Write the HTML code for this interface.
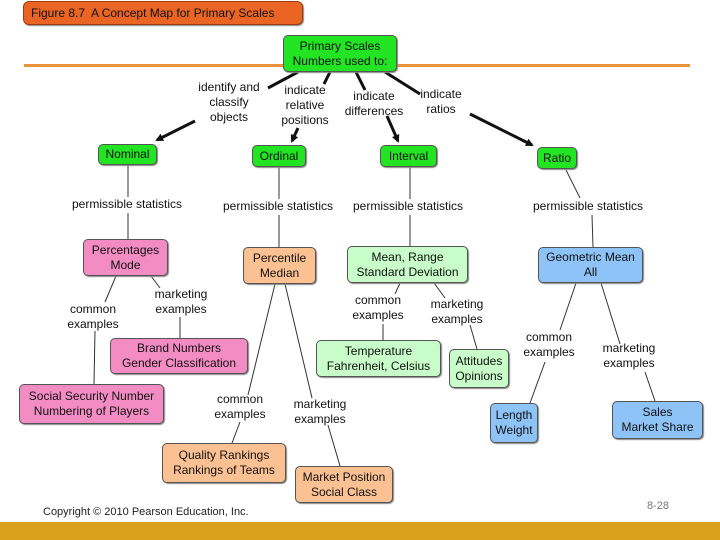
<!DOCTYPE html>
<html><head><style>
body{margin:0;width:720px;height:540px;background:#fff;position:relative;overflow:hidden;font-family:"Liberation Sans",sans-serif;}
.b{position:absolute;border:1px solid #555;border-radius:5px;display:flex;align-items:center;justify-content:center;text-align:center;font-size:12px;line-height:15px;color:#111;box-sizing:border-box;box-shadow:1px 1px 1px #888;}
.g{background:#22e422}.p{background:#f48cc4}.o{background:#fcc192}.lg{background:#c8fcc8}.bl{background:#8ec3f7}
.t{position:absolute;font-size:12px;line-height:15px;text-align:center;color:#111;white-space:nowrap;transform:translateX(-50%);}
</style></head><body>
<div class="b" style="left:23px;top:1px;width:280px;height:24px;background:#ea6424;border-color:#a03a10;border-radius:6px;justify-content:flex-start;padding-left:7px;font-size:12px">Figure 8.7&nbsp; A Concept Map for Primary Scales</div>
<div style="position:absolute;left:24px;top:64px;width:666px;height:3px;background:#e9943c"></div>
<svg style="position:absolute;left:0;top:0" width="720" height="540">
<defs><marker id="a" markerWidth="8" markerHeight="8" refX="6" refY="4" orient="auto" markerUnits="userSpaceOnUse"><path d="M0,0L8,4L0,8z" fill="#111"/></marker></defs>
<g stroke="#111" stroke-width="3" fill="none">
<line x1="298" y1="72" x2="268" y2="88"/><line x1="330" y1="72" x2="324" y2="84"/><line x1="356" y1="72" x2="365" y2="90"/><line x1="385" y1="72" x2="420" y2="94"/>
<line x1="195" y1="121" x2="157" y2="140" marker-end="url(#a)"/>
<line x1="298" y1="128" x2="292" y2="141" marker-end="url(#a)"/>
<line x1="387" y1="116" x2="398" y2="141" marker-end="url(#a)"/>
<line x1="470" y1="114" x2="532" y2="145" marker-end="url(#a)"/>
</g>
<g stroke="#333" stroke-width="1" fill="none">
<line x1="128" y1="165" x2="128" y2="197"/><line x1="128" y1="213" x2="128" y2="239"/>
<line x1="279" y1="166" x2="279" y2="199"/><line x1="279" y1="215" x2="279" y2="247"/>
<line x1="410" y1="166" x2="410" y2="199"/><line x1="410" y1="215" x2="410" y2="246"/>
<line x1="566" y1="170" x2="580" y2="198"/><line x1="592" y1="215" x2="593" y2="247"/>
<line x1="116" y1="276" x2="105" y2="302"/><line x1="95" y1="331" x2="94" y2="384"/>
<line x1="151" y1="276" x2="160" y2="288"/><line x1="180" y1="317" x2="180" y2="338"/>
<line x1="275" y1="284" x2="248" y2="395"/><line x1="240" y1="422" x2="232" y2="443"/>
<line x1="285" y1="284" x2="312" y2="398"/><line x1="328" y1="425" x2="340" y2="466"/>
<line x1="400" y1="283" x2="395" y2="294"/><line x1="383" y1="324" x2="383" y2="340"/>
<line x1="434" y1="283" x2="445" y2="298"/><line x1="470" y1="325" x2="477" y2="349"/>
<line x1="576" y1="283" x2="560" y2="330"/><line x1="545" y1="362" x2="530" y2="403"/>
<line x1="601" y1="283" x2="620" y2="344"/><line x1="645" y1="372" x2="655" y2="401"/>
</g></svg>
<div class="b g" style="left:283px;top:35px;width:114px;height:37px">Primary Scales<br>Numbers used to:</div>
<div class="t" style="left:229px;top:80px">identify and<br>classify<br>objects</div>
<div class="t" style="left:305px;top:83px">indicate<br>relative<br>positions</div>
<div class="t" style="left:374px;top:89px">indicate<br>differences</div>
<div class="t" style="left:441px;top:87px">indicate<br>ratios</div>
<div class="b g" style="left:98px;top:144px;width:59px;height:21px">Nominal</div>
<div class="b g" style="left:252px;top:145px;width:54px;height:22px">Ordinal</div>
<div class="b g" style="left:380px;top:145px;width:57px;height:22px">Interval</div>
<div class="b g" style="left:537px;top:147px;width:40px;height:22px">Ratio</div>
<div class="t" style="left:127px;top:197px">permissible statistics</div>
<div class="t" style="left:278px;top:199px">permissible statistics</div>
<div class="t" style="left:408px;top:199px">permissible statistics</div>
<div class="t" style="left:588px;top:199px">permissible statistics</div>
<div class="b p" style="left:83px;top:239px;width:85px;height:37px">Percentages<br>Mode</div>
<div class="b o" style="left:243px;top:247px;width:73px;height:37px">Percentile<br>Median</div>
<div class="b lg" style="left:347px;top:246px;width:121px;height:37px">Mean, Range<br>Standard Deviation</div>
<div class="b bl" style="left:538px;top:247px;width:105px;height:36px">Geometric Mean<br>All</div>
<div class="t" style="left:93px;top:302px">common<br>examples</div>
<div class="t" style="left:181px;top:287px">marketing<br>examples</div>
<div class="t" style="left:378px;top:293px">common<br>examples</div>
<div class="t" style="left:457px;top:297px">marketing<br>examples</div>
<div class="t" style="left:549px;top:330px">common<br>examples</div>
<div class="t" style="left:629px;top:341px">marketing<br>examples</div>
<div class="b p" style="left:110px;top:338px;width:138px;height:36px">Brand Numbers<br>Gender Classification</div>
<div class="b lg" style="left:316px;top:340px;width:125px;height:37px">Temperature<br>Fahrenheit, Celsius</div>
<div class="b lg" style="left:449px;top:349px;width:60px;height:39px">Attitudes<br>Opinions</div>
<div class="b p" style="left:19px;top:384px;width:145px;height:40px">Social Security Number<br>Numbering of Players</div>
<div class="t" style="left:240px;top:392px">common<br>examples</div>
<div class="t" style="left:320px;top:397px">marketing<br>examples</div>
<div class="b bl" style="left:490px;top:403px;width:48px;height:40px">Length<br>Weight</div>
<div class="b bl" style="left:612px;top:401px;width:91px;height:38px">Sales<br>Market Share</div>
<div class="b o" style="left:162px;top:443px;width:124px;height:40px">Quality Rankings<br>Rankings of Teams</div>
<div class="b o" style="left:295px;top:466px;width:98px;height:37px">Market Position<br>Social Class</div>
<div style="position:absolute;left:43px;top:506px;font-size:11px;color:#222">Copyright © 2010 Pearson Education, Inc.</div>
<div style="position:absolute;left:647px;top:500px;font-size:11px;color:#777">8-28</div>
<div style="position:absolute;left:0;top:522px;width:720px;height:18px;background:#d9a11b"></div>
</body></html>
